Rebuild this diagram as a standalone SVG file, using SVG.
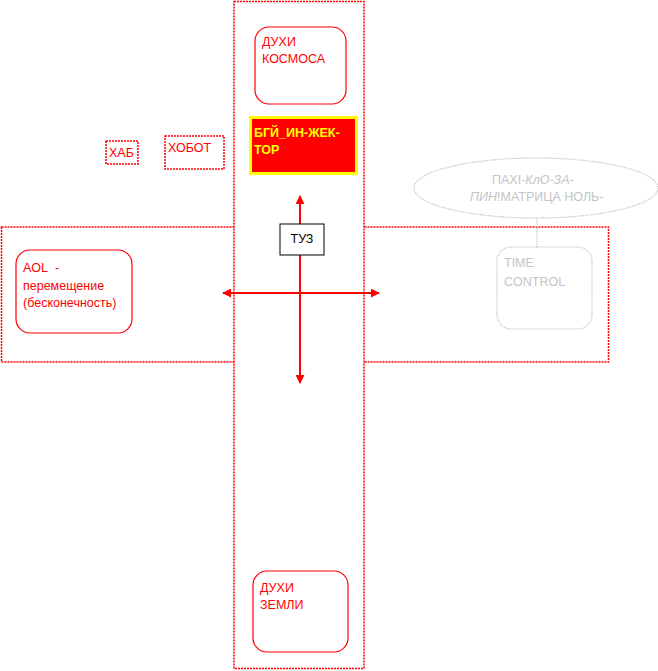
<svg xmlns="http://www.w3.org/2000/svg" width="658" height="671" viewBox="0 0 658 671">
<defs>
<style>
.frame{fill:#fff;stroke:#f00;stroke-width:1.5;stroke-dasharray:2,1}
.node{fill:#fff;stroke:#f00;stroke-width:1.2}
.dash{fill:#fff;stroke:#f00;stroke-width:1.5;stroke-dasharray:2,1}
.gray{fill:#fff;stroke:#c8c8c8;stroke-width:1.2;stroke-dasharray:1.5,1}
text{font-family:"Liberation Sans",Arial,sans-serif;font-size:12.5px}
.rt{fill:#f00}
.gt{fill:#c4c4c4}
.conn{stroke:#f00;stroke-width:2;fill:none}
</style>
<marker id="ah" viewBox="0 0 10 10" refX="9" refY="5" markerWidth="4.5" markerHeight="4.5" orient="auto-start-reverse" markerUnits="strokeWidth">
<path d="M0,0 L10,5 L0,10 z" fill="#f00"/>
</marker>
</defs>
<rect width="658" height="671" fill="#fff"/>
<g id="horizontal-band"><rect class="frame" x="1.5" y="227" width="607" height="135"/></g>
<g id="vertical-band"><rect class="frame" x="234" y="1.5" width="130" height="667"/></g>
<g id="duhi-kosmosa">
<rect class="node" x="255" y="27" width="91" height="77" rx="14"/>
<text class="rt" x="262" y="46">ДУХИ</text>
<text class="rt" x="262" y="63">КОСМОСА</text>
</g>
<g id="bgy-injector">
<rect x="250.5" y="117.5" width="106" height="56" fill="#f00" stroke="#ff0" stroke-width="3"/>
<text x="254" y="137" fill="#ff0" font-weight="bold">БГЙ_ИН-ЖЕК-</text>
<text x="254" y="154" fill="#ff0" font-weight="bold">ТОР</text>
</g>
<g id="hab">
<rect class="dash" x="106" y="141" width="32" height="23"/>
<text class="rt" x="109" y="157">ХАБ</text>
</g>
<g id="hobot">
<rect class="dash" x="165" y="136" width="59" height="33"/>
<text class="rt" x="168" y="152">ХОБОТ</text>
</g>
<g id="aol">
<rect class="node" x="16" y="250" width="116" height="83" rx="14"/>
<text class="rt" x="23" y="272" font-size="13">AOL&#160; -</text>
<text class="rt" x="23" y="290" font-size="13">перемещение</text>
<text class="rt" x="23" y="307" font-size="13">(бесконечность)</text>
</g>
<g id="connectors">
<line class="conn" x1="300" y1="196" x2="300" y2="383" marker-start="url(#ah)" marker-end="url(#ah)"/>
<line class="conn" x1="223" y1="293" x2="379" y2="293" marker-start="url(#ah)" marker-end="url(#ah)"/>
<line x1="537" y1="218" x2="537" y2="265" stroke="#c8c8c8" stroke-width="1.2" stroke-dasharray="1.5,1"/>
</g>
<g id="tuz">
<rect x="280" y="224" width="44" height="31" fill="#fff" stroke="#000" stroke-width="1"/>
<text x="302" y="243" text-anchor="middle" fill="#000">ТУЗ</text>
</g>
<g id="time-control">
<rect class="gray" x="497" y="247" width="95" height="82" rx="14" fill="none"/>
<text class="gt" x="504" y="267">TIME</text>
<text class="gt" x="504" y="286">CONTROL</text>
</g>
<g id="paxi">
<ellipse class="gray" cx="536" cy="188" rx="122" ry="30"/>
<text class="gt" x="492" y="184">ПАХI-<tspan font-style="italic">КлО-ЗА-</tspan></text>
<text class="gt" x="470" y="201"><tspan font-style="italic">ПИН</tspan>!МАТРИЦА НОЛЬ-</text>
</g>
<g id="duhi-zemli">
<rect class="node" x="253" y="571" width="95" height="81" rx="14"/>
<text class="rt" x="260" y="592">ДУХИ</text>
<text class="rt" x="260" y="609">ЗЕМЛИ</text>
</g>
</svg>
